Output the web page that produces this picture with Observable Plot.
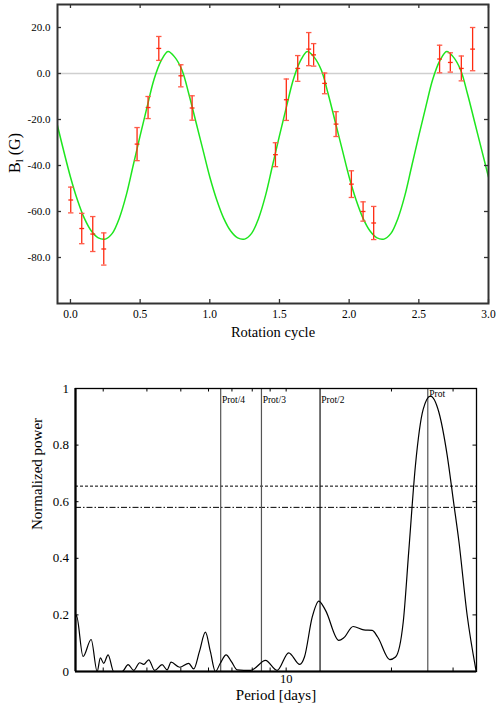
<!DOCTYPE html>
<html><head><meta charset="utf-8">
<script src="https://cdn.jsdelivr.net/npm/d3@7"></script>
<script src="https://cdn.jsdelivr.net/npm/@observablehq/plot@0.6"></script>
<style>
html,body{margin:0;padding:0;background:#fff;}
#chart svg{display:block;}
#chart svg, #chart svg text, #chart svg tspan{font-family:"Liberation Serif","Times New Roman",serif !important;}
</style></head><body><div id="chart"></div>
<script>
// ---------- Top panel: longitudinal field vs rotation cycle ----------
const obsPhase = [0.002,0.081,0.160,0.239,0.478,0.557,0.634,0.792,0.873,1.471,1.549,1.631,1.710,1.745,1.824,1.906,2.016,2.100,2.176,2.649,2.726,2.805,2.886];
const obsField = [-55.0,-67.4,-69.8,-76.3,-30.7,-14.8,10.9,-1.0,-15.0,-35.3,-11.4,2.2,10.6,8.1,-4.3,-22.0,-48.1,-60.0,-65.0,6.3,4.8,2.2,10.6];
const obsError = [5.6,6.6,7.6,7.0,7.2,4.8,5.2,4.8,5.3,5.2,9.0,5.6,7.2,4.9,4.5,5.4,5.8,4.2,7.2,6.0,4.2,5.4,9.4];

const fitPhase = [-0.1,
  0.00,0.05,0.10,0.15,0.20,0.25,0.30,0.35,0.40,0.45,0.50,0.55,0.60,0.65,0.70,0.75,0.80,0.85,0.90,0.95,
  1.00,1.05,1.10,1.15,1.20,1.25,1.30,1.35,1.40,1.45,1.50,1.55,1.60,1.65,1.70,1.75,1.80,1.85,1.90,1.95,
  2.00,2.05,2.10,2.15,2.20,2.25,2.30,2.35,2.40,2.45,2.50,2.55,2.60,2.65,2.70,2.75,2.80,2.85,2.90,2.95,
  3.00];
const fitField = [-21,
  -45,-55,-63,-68.5,-71.5,-72,-69.5,-63,-53,-40,-27,-14.5,-2.5,5.5,9.6,7,1.5,-9,-21,-33,
  -45,-55,-63,-68.5,-71.5,-72,-69.5,-63,-53,-40,-27,-14.5,-2.5,5.5,9.6,7,1.5,-9,-21,-33,
  -45,-55,-63,-68.5,-71.5,-72,-69.5,-63,-53,-40,-27,-14.5,-2.5,5.5,9.6,7,1.5,-9,-21,-33,
  -45];

const phaseTicks = [0,0.5,1,1.5,2,2.5,3];
const fieldTicks = [-80,-60,-40,-20,0,20];

// ---------- Bottom panel: periodogram ----------
const periodDays = [2.5,2.515,2.628,2.771,2.883,2.945,3.010,3.098,3.215,3.398,3.535,3.667,3.815,3.916,4.047,4.210,4.420,4.568,4.690,4.963,5.267,5.442,5.650,5.878,6.075,6.277,6.488,6.737,6.976,7.243,7.905,8.080,8.727,9.425,10.17,10.94,11.28,11.87,12.40,12.96,14.14,14.61,15.54,16.67,17.62,18.28,19.78,20.54,21.61,22.42,23.42,24.64,25.85,27.31,28.86,30.14,31.15,32.92,34.93];
const powerNorm  = [0.19,0.198,0.053,0.113,0.0,0.048,0.029,0.059,0.0,0.0,0.024,0.004,0.031,0.025,0.041,0.004,0.024,0.006,0.033,0.015,0.029,0.009,0.07,0.139,0.07,0.0,0.03,0.059,0.035,0.006,0.004,0.009,0.039,0.004,0.066,0.025,0.051,0.192,0.249,0.216,0.110,0.119,0.159,0.147,0.145,0.121,0.042,0.051,0.175,0.428,0.729,0.926,0.973,0.917,0.764,0.593,0.463,0.198,0.0];

const harmonicPeriods = [6.5,8.5,12.5,25.4];
const harmonicLabels = ["Prot/4","Prot/3","Prot/2","Prot"];
const fapDashed = [0.655];
const fapDashDot = [0.58];
const periodTicks = [3,4,5,6,7,8,9,10,20,30];
const periodLabelTicks = [10];
const powerTicks = [0,0.2,0.4,0.6,0.8,1];

// ---------- build ----------
const serif = "Liberation Serif, Times New Roman, serif";
const W = 496;
const cap = {draw(ctx, size){ const r = Math.sqrt(size/Math.PI); ctx.moveTo(-r,0); ctx.lineTo(r,0); }};

const obs = obsPhase.map((p,i)=>({phase:p, field:obsField[i], err:obsError[i]}));
const fit = fitPhase.map((p,i)=>({phase:p, field:fitField[i]}));

const tH = 345, tM = {top:4, right:8, bottom:42, left:57};
const tIW = W - tM.left - tM.right, tIH = tH - tM.top - tM.bottom;

const topSvg = Plot.plot({
  width: W, height: tH,
  marginTop: tM.top, marginRight: tM.right, marginBottom: tM.bottom, marginLeft: tM.left,
  style: {fontFamily: serif, background: "#fff", color: "#000", overflow: "visible"},
  x: {domain: [-0.093, 3.0]},
  y: {domain: [-100, 30]},
  marks: [
    Plot.ruleY([0], {stroke: "#cfcfcf", strokeWidth: 1.6}),
    Plot.line(fit, {x: "phase", y: "field", stroke: "#1ee61e", strokeWidth: 1.5, curve: "catmull-rom", clip: true}),
    Plot.ruleX(obs, {x: "phase", y1: d => d.field - d.err, y2: d => d.field + d.err, stroke: "#ff2a10", strokeWidth: 1.3}),
    Plot.dot(obs, {x: "phase", y: d => d.field + d.err, symbol: cap, r: 2.7, stroke: "#ff5a48", strokeWidth: 1.3, fill: "none"}),
    Plot.dot(obs, {x: "phase", y: d => d.field - d.err, symbol: cap, r: 2.7, stroke: "#ff5a48", strokeWidth: 1.3, fill: "none"}),
    Plot.dot(obs, {x: "phase", y: "field", symbol: cap, r: 2.4, stroke: "#ff2a10", strokeWidth: 1.3, fill: "none"}),
    Plot.tickX(phaseTicks, {x: d => d, insetTop: tIH - 4, stroke: "#333", strokeWidth: 1.3}),
    Plot.tickX(phaseTicks, {x: d => d, insetBottom: tIH - 4, stroke: "#333", strokeWidth: 1.3}),
    Plot.tickY(fieldTicks, {y: d => d, insetRight: tIW - 4, stroke: "#333", strokeWidth: 1.3}),
    Plot.tickY(fieldTicks, {y: d => d, insetLeft: tIW - 4, stroke: "#333", strokeWidth: 1.3}),
    Plot.frame({stroke: "#333", strokeWidth: 2}),
    Plot.axisX(phaseTicks, {tickSize: 0, tickPadding: 6, tickFormat: d => d.toFixed(1), fontSize: 11.5, fontFamily: serif, label: null}),
    Plot.axisY(fieldTicks, {tickSize: 0, tickPadding: 7, tickFormat: d => d.toFixed(1), fontSize: 11, fontFamily: serif, label: null}),
    Plot.text(["Rotation cycle"], {text: d => d, frameAnchor: "bottom", dy: 29, fontSize: 14.5, fontFamily: serif, lineAnchor: "middle"})
  ]
});

const ylab = d3.select(topSvg).append("text")
  .attr("transform", "translate(20,153) rotate(-90)")
  .attr("text-anchor", "middle")
  .attr("fill", "#000")
  .style("font-family", serif)
  .style("font-size", "16px");
ylab.append("tspan").text("B");
ylab.append("tspan").text("l").style("font-size", "11px").attr("dy", "3");
ylab.append("tspan").text(" (G)").attr("dy", "-3");

const pgram = periodDays.map((p,i)=>({period:p, power:powerNorm[i]}));
const harmonics = harmonicPeriods.map((p,i)=>({period:p, label:harmonicLabels[i]}));

const bH = 361, bM = {top:43, right:20, bottom:35, left:75};
const bIW = W - bM.left - bM.right, bIH = bH - bM.top - bM.bottom;

const botSvg = Plot.plot({
  width: W, height: bH,
  marginTop: bM.top, marginRight: bM.right, marginBottom: bM.bottom, marginLeft: bM.left,
  style: {fontFamily: serif, background: "#fff", color: "#000", overflow: "visible"},
  x: {type: "log", domain: [2.5, 35]},
  y: {domain: [0, 1]},
  marks: [
    Plot.ruleY(fapDashed, {y: d => d, stroke: "#000", strokeWidth: 1, strokeDasharray: "3,2"}),
    Plot.ruleY(fapDashDot, {y: d => d, stroke: "#000", strokeWidth: 1, strokeDasharray: "6,2,1.5,2"}),
    Plot.ruleX(harmonics.filter(d => d.label !== "Prot/2"), {x: "period", stroke: "#555", strokeWidth: 1.2}),
    Plot.ruleX(harmonics.filter(d => d.label === "Prot/2"), {x: "period", stroke: "#111", strokeWidth: 1.2}),
    Plot.line(pgram, {x: "period", y: "power", stroke: "#000", strokeWidth: 1.2, curve: "monotone-x", clip: true}),
    Plot.text(harmonics.filter(d => d.label !== "Prot"), {x: "period", text: "label", frameAnchor: "top", dy: 11.3, dx: 1.2, textAnchor: "start", lineAnchor: "middle", fontSize: 9.5, fontFamily: serif}),
    Plot.text(harmonics.filter(d => d.label === "Prot"), {x: "period", text: "label", frameAnchor: "top", dy: 5.8, dx: 1.5, textAnchor: "start", lineAnchor: "middle", fontSize: 9.5, fontFamily: serif}),
    Plot.tickX(periodTicks, {x: d => d, insetTop: bIH - 3.5, stroke: "#000"}),
    Plot.tickX(periodTicks, {x: d => d, insetBottom: bIH - 3.5, stroke: "#000"}),
    Plot.tickY(powerTicks, {y: d => d, insetRight: bIW - 3.5, stroke: "#000"}),
    Plot.tickY(powerTicks, {y: d => d, insetLeft: bIW - 3.5, stroke: "#000"}),
    Plot.frame({stroke: "#000", strokeWidth: 1.3}),
    Plot.ruleX([2.5], {x: d => d, stroke: "#000", strokeWidth: 2.2}),
    Plot.ruleY([0], {y: d => d, stroke: "#000", strokeWidth: 2.2}),
    Plot.axisX(periodLabelTicks, {tickSize: 0, tickPadding: 3, tickFormat: d => String(d), fontSize: 12.5, fontFamily: serif, label: null}),
    Plot.axisY(powerTicks, {tickSize: 0, tickPadding: 6.5, tickFormat: d => String(d), fontSize: 13, fontFamily: serif, label: null}),
    Plot.text(["Period [days]"], {text: d => d, frameAnchor: "bottom", dy: 24, fontSize: 15, fontFamily: serif, lineAnchor: "middle"}),
    Plot.text(["Normalized power"], {text: d => d, frameAnchor: "left", dx: -38, rotate: -90, fontSize: 15, fontFamily: serif, lineAnchor: "middle"})
  ]
});

document.getElementById("chart").append(topSvg, botSvg);
</script></body></html>
